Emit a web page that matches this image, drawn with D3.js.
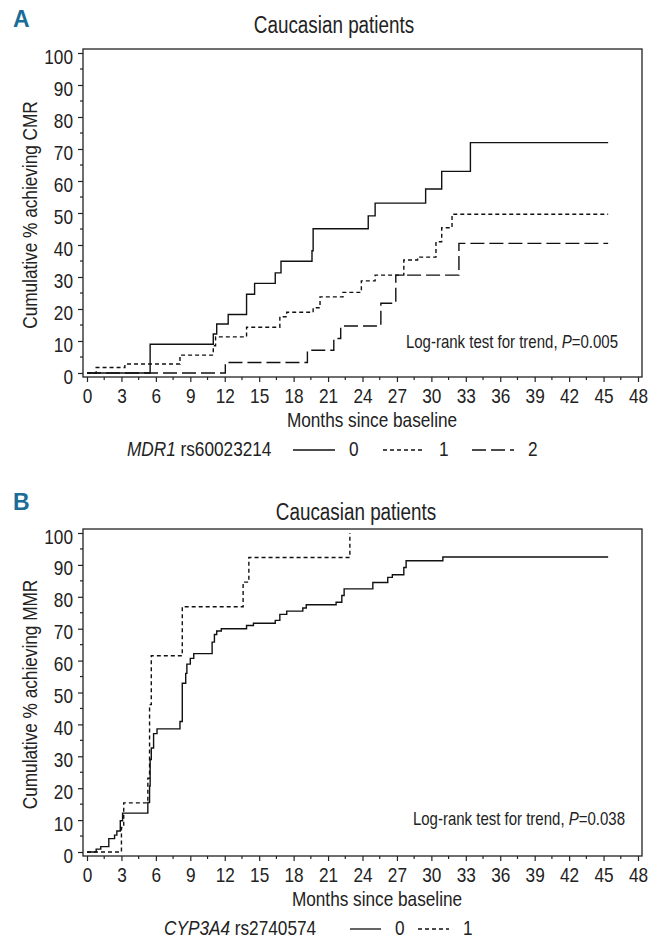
<!DOCTYPE html>
<html>
<head>
<meta charset="utf-8">
<script src="https://cdn.jsdelivr.net/npm/d3@7"></script>
<style>
  body { margin: 0; background: #fff; }
  svg text { font-family: "Liberation Sans", Arimo, Arial, sans-serif; fill: #222; }
</style>
</head>
<body>
<div id="chart"></div>
<script>
const width = 660, height = 945;
const narrowX = 0.82; // no condensed face installed, so squeeze Liberation Sans

// ticks
const monthTicks = d3.range(0, 49, 3);
const monthMinor = d3.range(1.5, 48, 3);
const pctTicks = d3.range(0, 101, 10);
const pctMinor = d3.range(5, 100, 10);

// panel A - MDR1 rs60023214, cumulative % achieving CMR
const cmrTimes0 = [0, 5.5, 11.0, 11.3, 12.3, 13.9, 14.6, 16.4, 16.9, 19.6, 19.7, 24.5, 25.1, 29.5, 30.9, 33.4, 45.4];
const cmrValues0 = [0, 9.0, 12.2, 15.3, 18.3, 24.6, 28.0, 31.3, 34.9, 38.2, 45.1, 49.1, 53.1, 57.5, 63.0, 72.0, 72.0];
const cmrTimes1 = [0, 0.8, 3.3, 8.1, 11.0, 11.2, 13.9, 16.8, 17.4, 19.7, 20.3, 22.3, 23.9, 25.1, 27.6, 28.8, 30.4, 30.9, 31.8, 45.4];
const cmrValues1 = [0, 1.7, 2.8, 5.6, 8.5, 11.3, 14.3, 17.6, 19.0, 20.4, 23.8, 25.2, 28.8, 30.6, 35.3, 36.2, 41.0, 45.4, 49.6, 49.6];
const cmrTimes2 = [0, 12.05, 19.2, 21.5, 22.1, 25.6, 26.9, 32.4, 45.4];
const cmrValues2 = [0, 3.3, 7.1, 10.8, 14.7, 21.8, 30.6, 40.5, 40.5];

// panel B - CYP3A4 rs2740574, cumulative % achieving MMR
const mmrTimes0 = [0, 0.8, 1.2, 1.9, 2.4, 2.6, 2.9, 3.1, 5.3, 5.45, 5.5, 5.6, 5.8, 6.1, 8.1, 8.3, 8.6, 8.7, 9.0, 9.3,
  10.9, 11.1, 11.3, 11.7, 13.9, 14.5, 16.4, 16.8, 17.4, 18.8, 19.1, 21.7, 22.2, 22.4, 24.9, 26.2, 26.6, 27.6, 27.8, 31.0, 45.4];
const mmrValues0 = [0, 0.9, 1.7, 4.2, 5.3, 6.6, 9.8, 12.2, 15.5, 20.7, 29.0, 32.6, 37.1, 38.6, 40.9, 52.9, 56.0, 58.9, 60.7, 62.2,
  65.8, 68.2, 69.3, 70.0, 71.0, 71.7, 72.6, 74.5, 75.5, 76.5, 77.5, 78.3, 80.4, 82.5, 84.5, 86.1, 86.9, 89.2, 91.3, 92.5, 92.5];
const mmrTimes1 = [0, 3.0, 3.2, 5.3, 5.45, 5.6, 8.3, 13.6, 14.1, 22.9];
const mmrValues1 = [0, 7.7, 15.4, 23.1, 46.2, 61.5, 76.9, 84.6, 92.3, 100];

const dashes = [null, '4,3', '14,5'];

const svg = d3.select('#chart').append('svg')
  .attr('width', width)
  .attr('height', height);

// zip times/values into step points
const zip = (t, v) => t.map((d, i) => ({ t: d, v: v[i] }));

// move x/y into a transform so text can be squeezed horizontally
function squeeze(sel, extra) {
  sel.each(function() {
    const t = d3.select(this);
    const x = +t.attr('x') || 0, y = +t.attr('y') || 0;
    t.attr('x', null).attr('y', null)
      .attr('transform', `translate(${x},${y})${extra || ''} scale(${narrowX},1)`);
  });
  return sel;
}

function drawPanel(p) {
  const g = svg.append('g').attr('transform', `translate(0,${p.top})`);

  const x = d3.scaleLinear().domain([0, 48]).range([87, 638]);
  const y = d3.scaleLinear().domain([0, 100]).range([p.h - 4, 4]);

  // panel letter + title
  svg.append('text').attr('x', 13).attr('y', p.letterY)
    .style('font-weight', 'bold').style('fill', '#1c6c98')
    .attr('font-size', 23).text(p.letter);
  squeeze(svg.append('text').attr('x', p.titleX).attr('y', p.titleY)
    .attr('text-anchor', 'middle').attr('font-size', 23).text('Caucasian patients'));

  // box
  g.append('rect').attr('x', 83).attr('y', 0)
    .attr('width', 559).attr('height', p.h)
    .attr('fill', 'none').attr('stroke', '#222').attr('stroke-width', 1.3);

  // y axis
  const yAx = g.append('g').attr('transform', 'translate(83,0)')
    .call(d3.axisLeft(y).tickValues(pctTicks).tickSize(5).tickPadding(5))
    .attr('font-size', 21);
  yAx.select('.domain').remove();
  yAx.selectAll('line').attr('stroke', '#222').attr('stroke-width', 1.2);
  squeeze(yAx.selectAll('text').attr('dy', '0.48em'));
  g.append('g').selectAll('line').data(pctMinor).join('line')
    .attr('x1', 80).attr('x2', 83)
    .attr('y1', d => y(d)).attr('y2', d => y(d))
    .attr('stroke', '#222').attr('stroke-width', 1.2);

  // x axis
  const xAx = g.append('g').attr('transform', `translate(0,${p.h})`)
    .call(d3.axisBottom(x).tickValues(monthTicks).tickSize(5).tickPadding(6))
    .attr('font-size', 21);
  xAx.select('.domain').remove();
  xAx.selectAll('line').attr('stroke', '#222').attr('stroke-width', 1.2);
  squeeze(xAx.selectAll('text'));
  g.append('g').selectAll('line').data(monthMinor).join('line')
    .attr('x1', d => x(d)).attr('x2', d => x(d))
    .attr('y1', p.h).attr('y2', p.h + 3)
    .attr('stroke', '#222').attr('stroke-width', 1.2);

  // axis titles
  squeeze(g.append('text').attr('x', p.xLabelX).attr('y', p.h + 50)
    .attr('text-anchor', 'middle').attr('font-size', 21).text('Months since baseline'));
  squeeze(g.append('text').attr('x', 37).attr('y', (y.range()[0] + y.range()[1]) / 2 + 2)
    .attr('text-anchor', 'middle').attr('font-size', 21).text(p.yLabel), ' rotate(-90)');

  // log-rank note
  const note = g.append('text').attr('x', p.noteX).attr('y', p.noteY)
    .attr('text-anchor', 'end').attr('font-size', 18.3);
  note.append('tspan').text('Log-rank test for trend, ');
  note.append('tspan').style('font-style', 'italic').text('P');
  note.append('tspan').text('=' + p.pValue);
  squeeze(note);

  // KM step curves
  const line = d3.line().x(d => x(d.t)).y(d => y(d.v)).curve(d3.curveStepAfter);
  g.append('g').selectAll('path').data(p.series).join('path')
    .attr('d', d => line(d))
    .attr('fill', 'none')
    .attr('stroke', '#111')
    .attr('stroke-width', 1.4)
    .attr('stroke-dasharray', (d, i) => dashes[i]);

  // legend
  const lg = g.append('g').attr('transform', `translate(0,${p.h + 79})`);
  const lt = lg.append('text').attr('x', p.legendX).attr('y', 0).attr('font-size', 21);
  lt.append('tspan').style('font-style', 'italic').text(p.gene);
  lt.append('tspan').text(' ' + p.snp);
  squeeze(lt);
  p.groups.forEach((name, i) => {
    const sx = p.legendItems[i];
    lg.append('line').attr('x1', sx).attr('x2', sx + p.sampleW)
      .attr('y1', -6).attr('y2', -6)
      .attr('stroke', '#111').attr('stroke-width', 1.3)
      .attr('stroke-dasharray', dashes[i]);
    squeeze(lg.append('text').attr('x', sx + p.sampleW + 14).attr('y', 0)
      .attr('font-size', 21).text(name));
  });
}

drawPanel({
  top: 49, h: 328, letter: 'A', letterY: 27, titleX: 334, titleY: 33,
  xLabelX: 372, yLabel: 'Cumulative % achieving CMR',
  noteX: 618, noteY: 299, pValue: '0.005',
  series: [zip(cmrTimes0, cmrValues0), zip(cmrTimes1, cmrValues1), zip(cmrTimes2, cmrValues2)],
  gene: 'MDR1', snp: 'rs60023214', groups: ['0', '1', '2'],
  legendX: 127, legendItems: [293, 383, 472], sampleW: 42
});

drawPanel({
  top: 529, h: 327, letter: 'B', letterY: 510, titleX: 356, titleY: 520,
  xLabelX: 377, yLabel: 'Cumulative % achieving MMR',
  noteX: 625, noteY: 296, pValue: '0.038',
  series: [zip(mmrTimes0, mmrValues0), zip(mmrTimes1, mmrValues1)],
  gene: 'CYP3A4', snp: 'rs2740574', groups: ['0', '1'],
  legendX: 164, legendItems: [350, 418], sampleW: 31
});
</script>
</body>
</html>
